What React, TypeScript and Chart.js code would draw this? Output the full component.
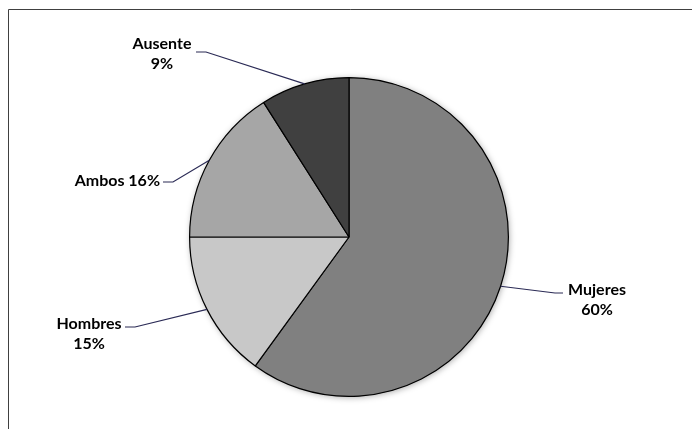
import React, { useEffect, useRef } from "react";
import { Chart, registerables } from "chart.js";

Chart.register(...registerables);

const categories = ["Mujeres", "Hombres", "Ambos", "Ausente"];
const shares = [60, 15, 16, 9];
const sliceColors = ["#808080", "#c8c8c8", "#a6a6a6", "#404040"];
// label layout: text anchor, alignment, single/two lines, leader elbow
const labelLayout = [
  { x: 597, y: 290, align: "center", twoLines: true, elbow: [563, 293, 555, 293] },
  { x: 89, y: 324, align: "center", twoLines: true, elbow: [125, 327, 135, 327] },
  { x: 160, y: 181, align: "right", twoLines: false, elbow: [163, 182, 173, 182] },
  { x: 162, y: 44, align: "center", twoLines: true, elbow: [196, 52, 206, 52] },
];

const FONT = "bold 16px Lato, 'Liberation Sans', sans-serif";

const decorPlugin = {
  id: "decor",
  beforeDatasetsDraw(chart: any) {
    const ctx = chart.ctx;
    const arc = chart.getDatasetMeta(0).data[0];
    if (!arc) return;
    ctx.save();
    ctx.shadowColor = "rgba(0,0,0,0.35)";
    ctx.shadowBlur = 6;
    ctx.shadowOffsetX = 1;
    ctx.shadowOffsetY = 1;
    ctx.fillStyle = "#808080";
    ctx.beginPath();
    ctx.arc(arc.x, arc.y, arc.outerRadius, 0, Math.PI * 2);
    ctx.fill();
    ctx.restore();
  },
  afterDraw(chart: any) {
    const ctx = chart.ctx;
    ctx.save();
    // frame
    ctx.strokeStyle = "#404040";
    ctx.lineWidth = 1;
    ctx.beginPath();
    ctx.moveTo(8.5, 429);
    ctx.lineTo(8.5, 9.5);
    ctx.lineTo(692, 9.5);
    ctx.stroke();

    const meta = chart.getDatasetMeta(0);
    meta.data.forEach((arc: any, i: number) => {
      const L = labelLayout[i];
      const mid = (arc.startAngle + arc.endAngle) / 2;
      const px = arc.x + Math.cos(mid) * arc.outerRadius;
      const py = arc.y + Math.sin(mid) * arc.outerRadius;
      ctx.strokeStyle = "#2a2a55";
      ctx.lineWidth = 1.2;
      ctx.beginPath();
      ctx.moveTo(L.elbow[0], L.elbow[1]);
      ctx.lineTo(L.elbow[2], L.elbow[3]);
      ctx.lineTo(px, py);
      ctx.stroke();

      ctx.fillStyle = "#000000";
      ctx.font = FONT;
      ctx.textAlign = L.align as CanvasTextAlign;
      ctx.textBaseline = "middle";
      const pct = shares[i] + "%";
      if (L.twoLines) {
        ctx.fillText(categories[i], L.x, L.y);
        ctx.fillText(pct, L.x, L.y + 20);
      } else {
        ctx.fillText(categories[i] + " " + pct, L.x, L.y);
      }
    });
    ctx.restore();
  },
};

export default function App() {
  const ref = useRef<HTMLCanvasElement>(null);
  useEffect(() => {
    if (!ref.current) return;
    const chart = new Chart(ref.current, {
      type: "pie",
      data: {
        labels: categories,
        datasets: [
          {
            data: shares,
            backgroundColor: sliceColors,
            borderColor: "#000000",
            borderWidth: 1.2,
          },
        ],
      },
      options: {
        responsive: false,
        animation: false,
        layout: { padding: { left: 189, right: 183, top: 77, bottom: 32 } },
        plugins: {
          legend: { display: false },
          tooltip: { enabled: false },
        },
      },
      plugins: [decorPlugin],
    });
    return () => chart.destroy();
  }, []);
  return (
    <div style={{ position: "fixed", left: 0, top: 0, width: 692, height: 429, background: "#fff" }}>
      <canvas ref={ref} width={692} height={429} style={{ display: "block" }} />
    </div>
  );
}
